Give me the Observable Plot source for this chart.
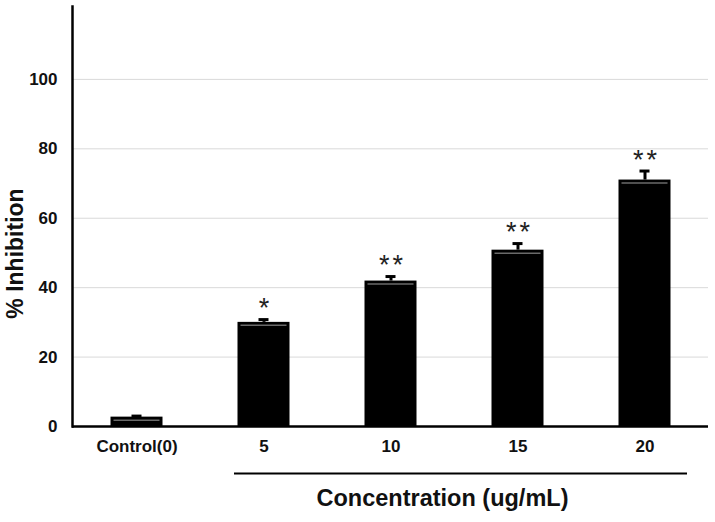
<!DOCTYPE html>
<html>
<head>
<meta charset="utf-8">
<script src="https://cdn.jsdelivr.net/npm/d3@7"></script>
<script src="https://cdn.jsdelivr.net/npm/@observablehq/plot@0.6"></script>
<style>
  html, body { margin: 0; padding: 0; background: #fff; }
  #chart svg { display: block; font-family: "Liberation Sans", Arial, sans-serif; }
  .stars text { letter-spacing: 3px; }
</style>
</head>
<body>
<div id="chart"></div>
<script>
const categories = ["Control(0)", "5", "10", "15", "20"];
const values = [2.7, 30, 41.9, 50.8, 71];
const errors = [0.3, 0.8, 1.3, 1.9, 2.6];
const stars = ["", "*", "**", "**", "**"];
const yTicks = [0, 20, 40, 60, 80, 100];
const yLabel = "% Inhibition";
const xLabel = "Concentration (ug/mL)";

const data = categories.map((c, i) => ({c, v: values[i], e: errors[i], top: values[i] + errors[i], s: stars[i]}));

const plot = Plot.plot({
  width: 715,
  height: 522,
  marginLeft: 72,
  marginRight: 7,
  marginTop: 6,
  marginBottom: 96,
  style: {fontFamily: "'Liberation Sans', Arial, sans-serif", background: "#fff"},
  x: {domain: categories, padding: 0},
  y: {domain: [0, 121], ticks: yTicks},
  marks: [
    Plot.gridY(yTicks, {stroke: "#d9d9d9", strokeOpacity: 1, strokeWidth: 1}),
    Plot.axisY(yTicks, {tickSize: 0, tickPadding: 15, fontSize: 17, fontWeight: "bold", fill: "#111", label: null}),
    Plot.axisX({tickSize: 0, tickPadding: 13, fontSize: 17, fontWeight: "bold", fill: "#111", label: null}),
    Plot.barY(data, {x: "c", y: "v", fill: "#000", insetLeft: 37.5, insetRight: 37.5}),
    Plot.tickY(data, {x: "c", y: "v", dy: 3, stroke: "#6a6a6a", strokeWidth: 1.5, inset: 40.5}),
    Plot.ruleX(data, {x: "c", y1: "v", y2: "top", stroke: "#000", strokeWidth: 3}),
    Plot.tickY(data, {x: "c", y: "top", stroke: "#000", strokeWidth: 3, inset: 58.5}),
    Plot.text(data, {x: "c", y: "top", text: "s", fontSize: 27, fill: "#222", dy: -11, dx: 1.5, className: "stars"}),
    Plot.ruleY([0], {stroke: "#000", strokeWidth: 2.5}),
    Plot.frame({anchor: "left", stroke: "#000", strokeWidth: 2.5}),
    Plot.ruleY([0], {x1: () => "5", x2: () => "20", dy: 47, insetLeft: 34, insetRight: 21, stroke: "#000", strokeWidth: 2}),
    Plot.text([xLabel], {frameAnchor: "bottom", dx: 52, dy: 79, fontSize: 23.5, fontWeight: "bold", fill: "#111"}),
    Plot.text([yLabel], {frameAnchor: "left", textAnchor: "middle", rotate: -90, dx: -56.5, dy: 37, fontSize: 23, fontWeight: "bold", fill: "#111"})
  ]
});
document.getElementById("chart").appendChild(plot);
</script>
</body>
</html>
